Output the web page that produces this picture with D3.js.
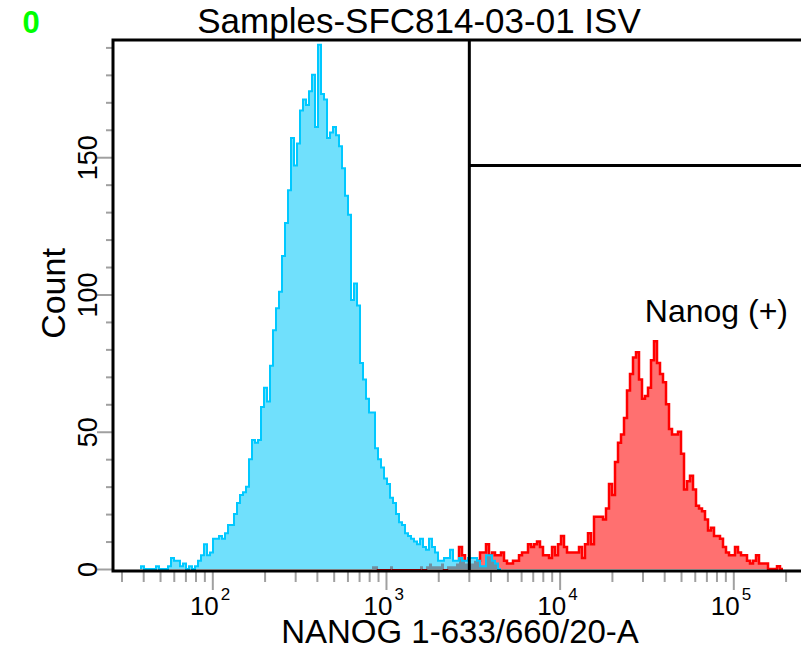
<!DOCTYPE html>
<html>
<head>
<meta charset="utf-8">
<script src="https://cdnjs.cloudflare.com/ajax/libs/d3/7.8.5/d3.min.js"></script>
<style>
  body { margin: 0; background: #fff; }
  svg { display: block; }
  text { font-family: "Liberation Sans", Arial, sans-serif; fill: #000; }
</style>
</head>
<body>
<div id="chart"></div>
<script>
// histogram channels: log10 of left edge of channel 0, and channel width (log10 units)
var binLogStart = 1.5894;
var binLogStep = 0.017275;

// isotype control (blue), first channel = 0
var blueStart = 0;
var blueCounts = [
  1, 0, 0, 0, 0, 1, 0, 0, 0, 1,
  4, 3, 3, 1, 2, 0, 1, 0, 1, 3,
  5, 9, 5, 6, 11, 11, 12, 11, 13, 16,
  16, 20, 24, 27, 28, 30, 40, 47, 46, 47,
  59, 66, 61, 74, 87, 95, 101, 114, 126, 138,
  157, 147, 155, 167, 171, 169, 174, 180, 161, 191,
  173, 171, 157, 159, 161, 158, 154, 146, 136, 129,
  98, 104, 96, 75, 69, 62, 57, 57, 44, 40,
  37, 33, 31, 26, 24, 20, 17, 16, 13, 12,
  11, 10, 9, 11, 8, 7, 11, 8, 6, 3,
  3, 4, 4, 7, 3, 3, 4, 3, 3, 4,
  4, 4, 3, 1, 1, 5, 5, 3, 2, 0
];

// NANOG sample (red), first channel = 77
var redStart = 77;
var redCounts = [
  1, 1, 0, 0, 0, 0, 1, 0, 0, 0,
  0, 0, 0, 0, 0, 0, 1, 0, 1, 2,
  1, 1, 1, 2, 0, 1, 1, 1, 2, 8,
  5, 2, 2, 2, 3, 3, 6, 6, 9, 5,
  6, 5, 5, 6, 3, 2, 2, 3, 3, 5,
  6, 6, 9, 8, 9, 10, 8, 5, 5, 4,
  8, 5, 9, 12, 8, 6, 6, 6, 6, 8,
  4, 9, 13, 9, 19, 19, 19, 18, 22, 31,
  27, 39, 46, 49, 55, 65, 71, 77, 79, 69,
  62, 63, 66, 76, 83, 75, 71, 68, 60, 51,
  49, 49, 50, 42, 29, 32, 34, 29, 23, 22,
  21, 18, 14, 15, 12, 12, 11, 8, 6, 5,
  5, 8, 6, 5, 5, 3, 2, 3, 5, 2,
  2, 2, 0, 0, 0, 1, 0
];

var xMajorTicks = [100, 1000, 10000, 100000];
var xExponents = ["2", "3", "4", "5"];
var xMinorTicks = [30, 40, 50, 60, 70, 80, 90,
  200, 300, 400, 500, 600, 700, 800, 900,
  2000, 3000, 4000, 5000, 6000, 7000, 8000, 9000,
  20000, 30000, 40000, 50000, 60000, 70000, 80000, 90000, 200000];
var yMajorTicks = [0, 50, 100, 150];
var yMinorTicks = [10, 20, 30, 40, 60, 70, 80, 90, 110, 120, 130, 140, 160, 170, 180, 190];

var gateLow = 3020;
var gateCount = 147;

var titleText = "Samples-SFC814-03-01 ISV";
var xLabelText = "NANOG 1-633/660/20-A";
var yLabelText = "Count";
var gateLabelText = "Nanog (+)";
var plotNumber = "0";

var W = 801, H = 650;
var svg = d3.select("#chart").append("svg")
  .attr("width", W).attr("height", H);

var x = d3.scaleLog().domain([26.8, 245400]).range([113, 801]);
var y = d3.scaleLinear().domain([0, 192.7]).range([569, 40]);

function binPoints(start, counts) {
  var edge = function(c) { return Math.pow(10, binLogStart + c * binLogStep); };
  var pts = [{v: edge(start), n: 0}];
  counts.forEach(function(n, k) { pts.push({v: edge(start + k), n: n}); });
  pts.push({v: edge(start + counts.length), n: counts[counts.length - 1]});
  pts.push({v: edge(start + counts.length), n: 0});
  return pts;
}

// overlap of the two histograms (drawn grey in the original)
var overlap = [];
redCounts.forEach(function(n, k) {
  var c = redStart + k - blueStart;
  overlap.push(c < blueCounts.length ? Math.min(n, blueCounts[c]) : 0);
});

var area = d3.area().curve(d3.curveStepAfter)
  .x(function(d) { return x(d.v); })
  .y0(y(0))
  .y1(function(d) { return y(d.n); });
var line = d3.line().curve(d3.curveStepAfter)
  .x(function(d) { return x(d.v); })
  .y(function(d) { return y(d.n); });

var bluePts = binPoints(blueStart, blueCounts);
var redPts = binPoints(redStart, redCounts);

svg.append("path").attr("d", area(redPts)).attr("fill", "#ff7070");
svg.append("path").attr("d", line(redPts)).attr("fill", "none")
  .attr("stroke", "#ff0000").attr("stroke-width", 2.5);
svg.append("path").attr("d", area(bluePts)).attr("fill", "#70e0fc");
svg.append("path").attr("d", area(binPoints(redStart, overlap))).attr("fill", "#7090a0");
svg.append("path").attr("d", line(bluePts)).attr("fill", "none")
  .attr("stroke", "#00c8ff").attr("stroke-width", 2);

// y axis ticks
var yMinorAxis = svg.append("g").attr("transform", "translate(113,0)")
  .call(d3.axisLeft(y).tickValues(yMinorTicks).tickSize(7).tickFormat(""));
var yMajorAxis = svg.append("g").attr("transform", "translate(113,0)")
  .call(d3.axisLeft(y).tickValues(yMajorTicks).tickSize(16).tickFormat(d3.format("d")));
yMajorAxis.selectAll("text")
  .attr("transform", "rotate(-90)")
  .attr("x", 0).attr("y", -16).attr("dy", 0)
  .style("text-anchor", "middle")
  .style("font-family", "'Liberation Sans Narrow', 'Liberation Sans', Arial, sans-serif")
  .style("font-size", "27px");

// x axis ticks
var xMinorAxis = svg.append("g").attr("transform", "translate(0,571)")
  .call(d3.axisBottom(x).tickValues(xMinorTicks).tickSize(11).tickFormat(""));
var xMajorAxis = svg.append("g").attr("transform", "translate(0,571)")
  .call(d3.axisBottom(x).tickValues(xMajorTicks).tickSize(19).tickFormat(""));
xMajorAxis.selectAll(".tick").each(function(d, i) {
  var g = d3.select(this);
  g.append("text").attr("x", 6).attr("y", 44)
    .style("text-anchor", "end")
    .style("font-family", "'Liberation Sans Narrow', 'Liberation Sans', Arial, sans-serif")
    .style("font-size", "26px").text("10");
  g.append("text").attr("x", 8).attr("y", 29)
    .style("text-anchor", "start")
    .style("font-family", "'Liberation Sans Narrow', 'Liberation Sans', Arial, sans-serif")
    .style("font-size", "17px").text(xExponents[i]);
});

[yMinorAxis, yMajorAxis, xMinorAxis, xMajorAxis].forEach(function(a) {
  a.select(".domain").remove();
  a.selectAll(".tick line").attr("stroke", "#a0a0a0").attr("stroke-width", 2);
  a.selectAll(".tick text").attr("fill", "#000");
});

// frame
svg.append("path")
  .attr("d", "M" + 111.5 + "," + 40 + "H" + W + "M" + 113 + "," + 40 + "V" + 572.5 + "M" + 111.5 + "," + 571 + "H" + W)
  .attr("fill", "none").attr("stroke", "#000").attr("stroke-width", 3);

// gate
var gx = x(gateLow);
svg.append("line").attr("x1", gx).attr("x2", gx).attr("y1", 40).attr("y2", 571)
  .attr("stroke", "#000").attr("stroke-width", 3);
svg.append("line").attr("x1", gx).attr("x2", W).attr("y1", y(gateCount)).attr("y2", y(gateCount))
  .attr("stroke", "#000").attr("stroke-width", 3);
svg.append("text").attr("x", 788).attr("y", 322)
  .style("text-anchor", "end").style("font-size", "32px").text(gateLabelText);

// titles
svg.append("text").attr("x", 419).attr("y", 33)
  .style("text-anchor", "middle").style("font-size", "35px").text(titleText);
svg.append("text").attr("x", 460).attr("y", 643)
  .style("text-anchor", "middle").style("font-size", "33px").text(xLabelText);
svg.append("text").attr("transform", "translate(65,293.5) rotate(-90)")
  .style("text-anchor", "middle").style("font-size", "34px").text(yLabelText);
svg.append("text").attr("x", 31).attr("y", 33)
  .style("text-anchor", "middle").style("font-size", "31px").style("font-weight", "bold")
  .style("fill", "#00ff00").text(plotNumber);
</script>
</body>
</html>
